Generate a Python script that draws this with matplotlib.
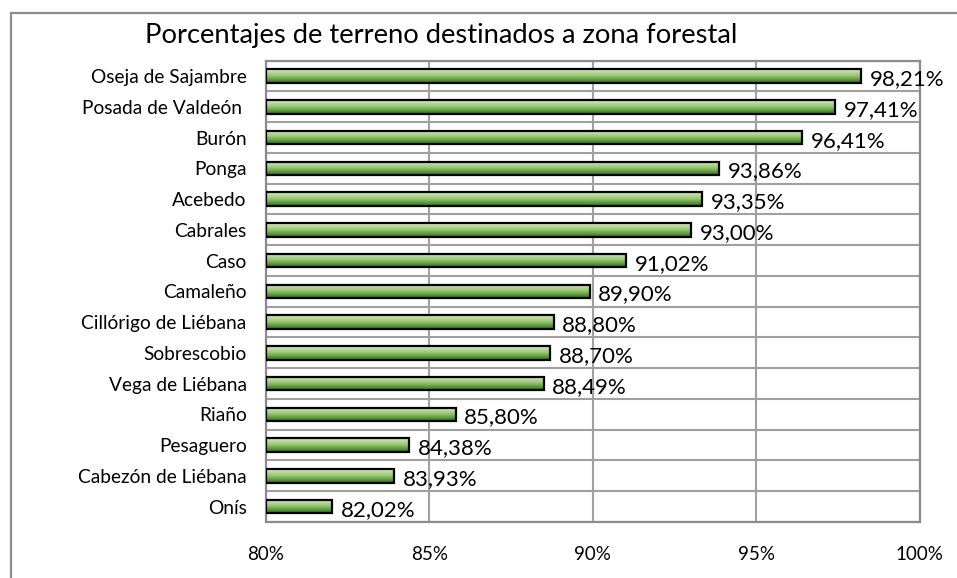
import matplotlib.pyplot as plt
import numpy as np
from matplotlib.patches import Rectangle
from matplotlib.colors import LinearSegmentedColormap

plt.rcParams['font.family'] = ['Lato', 'DejaVu Sans']

municipios = ["Oseja de Sajambre", "Posada de Valdeón ", "Burón", "Ponga", "Acebedo",
              "Cabrales", "Caso", "Camaleño", "Cillórigo de Liébana", "Sobrescobio",
              "Vega de Liébana", "Riaño", "Pesaguero", "Cabezón de Liébana", "Onís"]
porcentaje = [98.21, 97.41, 96.41, 93.86, 93.35, 93.00, 91.02, 89.90, 88.80, 88.70,
              88.49, 85.80, 84.38, 83.93, 82.02]
xticks = [80, 85, 90, 95, 100]

fig = plt.figure(figsize=(9.57, 5.78), dpi=100)
ax = fig.add_axes([0.278, 0.097, 0.683, 0.798])

# chart border (runs off the right/bottom edge)
fig.patches.append(Rectangle((11 / 957, -0.1), 1.0, 1 - 13 / 578 + 0.1,
                             transform=fig.transFigure, fill=False,
                             edgecolor='#8c8c8c', lw=1.6))

y = np.arange(len(municipios))
h = 0.44
grad = LinearSegmentedColormap.from_list(
    'verde', ['#d6eac2', '#b8d89a', '#93c26e', '#5e9c3e', '#2f6d1c'])
bars = ax.barh(y, [p - 80 for p in porcentaje], left=80, height=h,
               color='none', edgecolor='black', lw=1.6, zorder=4)
g = np.linspace(0, 1, 64).reshape(-1, 1)
for yi, p in zip(y, porcentaje):
    ax.imshow(g, cmap=grad, aspect='auto', interpolation='bilinear',
              extent=(80, p, yi + h / 2, yi - h / 2), zorder=3)
    ax.text(p + 0.26, yi + 0.1, f"{p:.2f}%".replace('.', ','),
            va='center', ha='left', fontsize=16, zorder=5)

ax.set_xlim(80, 100)
ax.set_ylim(len(municipios) - 0.5, -0.5)
ax.set_xticks(xticks)
ax.set_xticklabels([f"{t}%" for t in xticks], fontsize=13.5)
ax.set_yticks(y)
ax.set_yticklabels(municipios, fontsize=13.8)
ax.set_yticks(np.arange(len(municipios) + 1) - 0.5, minor=True)
ax.tick_params(axis='both', which='both', length=0)
ax.tick_params(axis='x', pad=17)
ax.tick_params(axis='y', pad=14)
ax.grid(True, axis='x', which='major', color='#a0a0a0', lw=1.5)
ax.grid(True, axis='y', which='minor', color='#a0a0a0', lw=1.5)
ax.grid(False, axis='y', which='major')
ax.set_axisbelow(True)
for s in ax.spines.values():
    s.set_color('#8c8c8c')
    s.set_linewidth(1.6)

fig.text(0.461, 0.938, "Porcentajes de terreno destinados a zona forestal",
         ha='center', va='center', fontsize=19.7)

fig.savefig('out.png', dpi=100)
